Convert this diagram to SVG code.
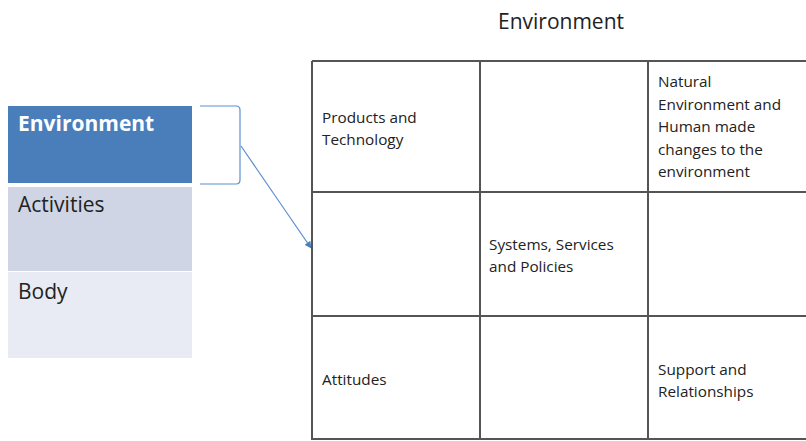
<svg xmlns="http://www.w3.org/2000/svg" width="806" height="441" viewBox="0 0 806 441">
  <style>
    .cell { font-family: "Open Sans", "Liberation Sans", sans-serif; font-size: 15.3px; fill: #222; }
    .stack { font-family: "Open Sans", "Liberation Sans", sans-serif; font-size: 21px; }
    .grid { stroke: #555; stroke-width: 2; fill: none; }
    .link { stroke: #5b8fd0; stroke-width: 1.2; fill: none; }
  </style>
  <defs>
    <marker id="arrow" viewBox="0 0 10 10" refX="9" refY="5" markerWidth="7" markerHeight="7" orient="auto" markerUnits="userSpaceOnUse">
      <path d="M0,0 L10,5 L0,10 z" fill="#4a7ebb"/>
    </marker>
  </defs>
  <rect width="806" height="441" fill="#fff"/>

  <!-- left-hand stack -->
  <g id="stack-environment">
    <rect x="8" y="106" width="184" height="77" fill="#4a7ebb"/>
    <text class="stack" x="18" y="131" fill="#fff" font-weight="bold" font-size="19.5px">Environment</text>
  </g>
  <g id="stack-activities">
    <rect x="8" y="187" width="184" height="84" fill="#cfd5e4"/>
    <text class="stack" x="18" y="212" fill="#222">Activities</text>
  </g>
  <g id="stack-body">
    <rect x="8" y="272" width="184" height="86" fill="#e8ebf3"/>
    <text class="stack" x="18" y="299" fill="#222">Body</text>
  </g>

  <!-- bracket and arrow into the grid -->
  <g id="connectors">
    <path class="link" d="M200,106 L236,106 Q240,106 240,110 L240,180 Q240,184 236,184 L200,184"/>
    <line class="link" x1="241" y1="146" x2="311" y2="248" marker-end="url(#arrow)"/>
  </g>

  <!-- grid title -->
  <g id="title">
    <text x="561" y="29" text-anchor="middle" font-family="Open Sans, Liberation Sans, sans-serif" font-size="21" fill="#222">Environment</text>
  </g>

  <!-- 3x3 grid -->
  <g id="grid">
    <path class="grid" d="M312,61 L806,61 M312,61 L312,439 L806,439 M480,61 L480,439 M648,61 L648,439 M312,192 L806,192 M312,316 L806,316"/>
  </g>

  <g id="cell-products">
    <text class="cell" x="322" y="123">Products and</text>
    <text class="cell" x="322" y="145">Technology</text>
  </g>
  <g id="cell-natural">
    <text class="cell" x="658" y="87">Natural</text>
    <text class="cell" x="658" y="110">Environment and</text>
    <text class="cell" x="658" y="132">Human made</text>
    <text class="cell" x="658" y="155">changes to the</text>
    <text class="cell" x="658" y="177">environment</text>
  </g>
  <g id="cell-systems">
    <text class="cell" x="489" y="250">Systems, Services</text>
    <text class="cell" x="489" y="272">and Policies</text>
  </g>
  <g id="cell-attitudes">
    <text class="cell" x="322" y="385">Attitudes</text>
  </g>
  <g id="cell-support">
    <text class="cell" x="658" y="375">Support and</text>
    <text class="cell" x="658" y="397">Relationships</text>
  </g>
</svg>
